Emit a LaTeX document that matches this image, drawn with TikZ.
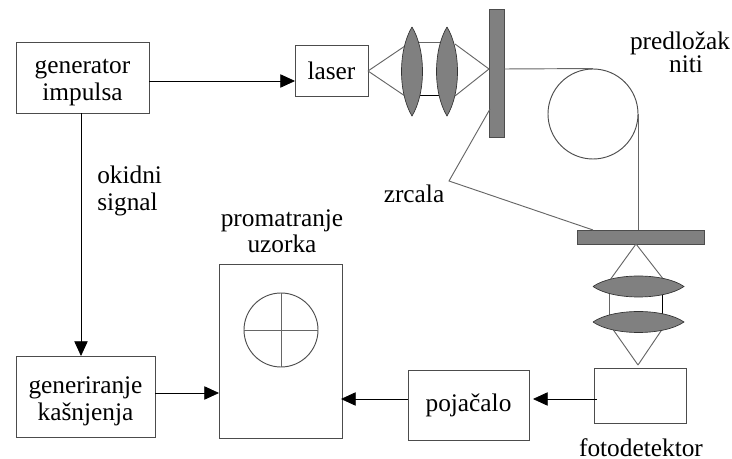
\documentclass[tikz,border=0pt]{standalone}
\usepackage{fontspec}
\setmainfont{Liberation Serif}
\usetikzlibrary{arrows.meta}
\tikzset{
	box/.style={draw=black!70, line width=0.7pt, inner sep=0pt, align=center},
	txt/.style={inner sep=0pt, align=center},
	ray/.style={draw=black!60, line width=0.7pt},
	sig/.style={draw=black, line width=0.6pt, -{Triangle[length=11pt,width=10pt]}},
	mirror/.style={draw=black!70, fill=black!50, line width=0.6pt},
	lens/.style={draw=black!80, fill=black!50, line width=0.5pt}
}

\begin{document}
\begin{tikzpicture}[x=0.75pt, y=-0.75pt, font=\fontsize{19}{20.5}\selectfont]
\useasboundingbox (0,0) rectangle (732,459);
%boxes
\node[box, minimum width=99.75pt, minimum height=53.25pt] (gen) at (82.5,77.5) {};
\node[txt] (gentext) at (82.5,82.5) {generator\\impulsa};
\node[box, minimum width=54.75pt, minimum height=38.25pt] (laser) at (331.5,70.5) {laser};
\node[box, minimum width=104.25pt, minimum height=60.75pt] (delay) at (85.5,396.5) {};
\node[txt] (delaytext) at (85.5,401.5) {generiranje\\kašnjenja};
\node[box, minimum width=92.25pt, minimum height=130.5pt] (scope) at (280.5,351) {};
\node[box, minimum width=90.75pt, minimum height=52.5pt] (amp) at (468.5,405) {};
\node[txt] (amptext) at (468.5,405.5) {pojačalo};
\node[box, minimum width=69pt, minimum height=41.25pt] (det) at (640,395.5) {};
%mirrors and fibre spool
\node[mirror, minimum width=11.25pt, minimum height=96pt, inner sep=0pt] (mirrora) at (496.5,73) {};
\node[mirror, minimum width=95.25pt, minimum height=10.5pt, inner sep=0pt] (mirrorb) at (640.5,237) {};
\node[box, circle, minimum size=67.5pt] (spool) at (593,114) {};
\node[box, circle, minimum size=55.5pt] (screen) at (281,330) {};
\draw[ray] (screen.north) -- (screen.south);
\draw[ray] (screen.west) -- (screen.east);
%beam through upper lenses
\coordinate (focusa) at (489,69);
\coordinate (laserout) at (368,71);
\draw[ray] (laserout) -- (405,46);
\draw[ray] (laserout) -- (405,96);
\draw[ray] (412,42) -- (447,42);
\draw[ray, draw=black] (412,95) -- (447,95);
\draw[ray] (focusa) -- (455,44);
\draw[ray] (focusa) -- (455,96);
\foreach \x in {412,447}{
	\filldraw[lens] (\x,27) .. controls (\x-14,50) and (\x-14,93) .. (\x,116)
		.. controls (\x+14,93) and (\x+14,50) .. (\x,27);
	}
%fibre path
\coordinate (spooltop) at (spool.north);
\coordinate (spoolright) at (spool.east);
\draw[ray] (504,69) -- (spooltop);
\draw[ray] (spoolright) -- (spoolright |- mirrorb.north);
%zrcala pointer
\coordinate (pointer) at (449,181);
\draw[ray] (490,109) -- (pointer) -- (593,230);
%beam through lower lenses
\coordinate (focusb) at (636,244);
\coordinate (focusc) at (638,365);
\draw[ray] (focusb) -- (610,280);
\draw[ray] (focusb) -- (664,280);
\draw[ray] (609,287) -- (609,322);
\draw[ray, draw=black] (662,287) -- (662,322);
\draw[ray] (focusc) -- (612,328);
\draw[ray] (focusc) -- (663,328);
\foreach \y in {286.5,322}{
	\filldraw[lens] (593,\y) .. controls (613,\y-14) and (664,\y-14) .. (684,\y)
		.. controls (664,\y+14) and (613,\y+14) .. (593,\y);
	}
%signals
\coordinate (delayin) at (81,356);
\coordinate (laserin) at (295,81);
\coordinate (scopeleft) at (219,393);
\coordinate (scoperight) at (341,399);
\coordinate (ampright) at (533,399);
\coordinate (detout) at (597,399);
\draw[sig] (gen.east |- laserin) -- (laserin);
\draw[sig] (gen.south -| delayin) -- (delayin);
\draw[sig] (delay.east |- scopeleft) -- (scopeleft);
\draw[sig] (amp.west |- scoperight) -- (scoperight);
\draw[sig] (detout) -- (ampright);
%labels
\node[txt, anchor=base] (predlozak) at (680,50) {predložak};
\node[txt, anchor=base] (niti) at (686,73) {niti};
\node[txt, anchor=west, align=left] (okidni) at (97,191) {okidni\\signal};
\node[txt, anchor=base] (zrcala) at (414,203) {zrcala};
\node[txt, anchor=base] (promatranje) at (282,227) {promatranje};
\node[txt, anchor=base] (uzorka) at (282,253) {uzorka};
\node[txt, anchor=base] (fotodetektor) at (641,456) {fotodetektor};
\end{tikzpicture}
\end{document}
